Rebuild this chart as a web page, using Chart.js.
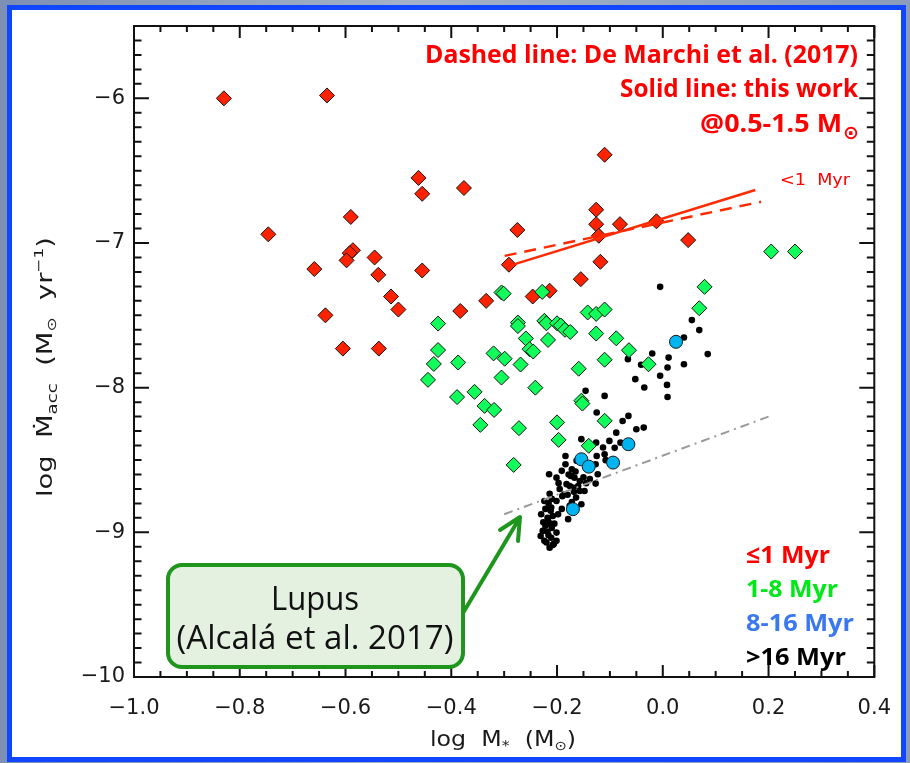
<!DOCTYPE html>
<html>
<head>
<meta charset="utf-8">
<script src="https://cdn.jsdelivr.net/npm/chart.js@4.4.1/dist/chart.umd.min.js"></script>
<style>
  html, body { margin: 0; padding: 0; }
  body {
    width: 910px; height: 763px; overflow: hidden; position: relative;
    background: linear-gradient(90deg, #7d90b4 0%, #a3b1c9 45%, #8b9cbc 100%);
  }
  #panel {
    position: absolute; left: 7px; top: 5px; width: 899px; height: 757px;
    box-sizing: border-box; border: 5px solid #1046ff; background: #fff;
  }
  #wrap { position: absolute; left: 0; top: 0; width: 910px; height: 763px; }
</style>
</head>
<body>
<div id="panel"></div>
<div id="wrap"><canvas id="accChart" width="910" height="763"></canvas></div>
<script>
// log M* (Msun) and log Macc (Msun/yr), per age group

// <= 1 Myr
const youngMass = [-0.83, -0.635, -0.462, -0.455, -0.376, -0.110, -0.590, -0.746, -0.586, -0.592,
  -0.598, -0.545, -0.659, -0.538, -0.455, -0.514, -0.500, -0.638, -0.605, -0.537,
  -0.383, -0.126, -0.126, -0.121, -0.081, -0.012, -0.275, 0.048, -0.291, -0.118,
  -0.155, -0.334, -0.246, -0.214];
const youngRate = [-6.00, -5.98, -6.55, -6.66, -6.62, -6.39, -6.82, -6.94, -7.05, -7.07,
  -7.12, -7.10, -7.18, -7.22, -7.19, -7.37, -7.46, -7.50, -7.73, -7.73,
  -7.47, -6.77, -6.87, -6.95, -6.87, -6.85, -6.91, -6.98, -7.15, -7.13,
  -7.25, -7.40, -7.37, -7.33];

// 1-8 Myr
const midMass = [-0.425, -0.425, -0.433, -0.444, -0.387, -0.389, -0.356, -0.337, -0.319, -0.345,
  -0.320, -0.305, -0.305, -0.301, -0.228, -0.299, -0.269, -0.259, -0.274, -0.274,
  -0.252, -0.245, -0.217, -0.224, -0.220, -0.200, -0.193, -0.185, -0.175, -0.142,
  -0.126, -0.110, -0.126, -0.088, -0.064, -0.027, 0.079, 0.069, -0.110, -0.159,
  -0.241, -0.154, -0.152, -0.272, -0.200, -0.110, -0.197, -0.140, -0.282, 0.205,
  0.250];
const midRate = [-7.557, -7.740, -7.836, -7.946, -7.826, -8.065, -8.029, -8.126, -8.154, -8.257,
  -7.763, -7.930, -7.342, -7.350, -7.338, -7.800, -7.840, -7.660, -7.550, -7.574,
  -7.734, -7.750, -7.670, -7.538, -7.555, -7.555, -7.570, -7.600, -7.615, -7.480,
  -7.490, -7.460, -7.626, -7.659, -7.741, -7.838, -7.303, -7.451, -7.807, -7.869,
  -8.000, -8.090, -8.110, -8.280, -8.240, -8.229, -8.361, -8.402, -8.534, -7.059,
  -7.059];

// 8-16 Myr
const oldMass = [0.025, -0.065, -0.094, -0.154, -0.140, -0.170];
const oldRate = [-7.683, -8.391, -8.518, -8.495, -8.546, -8.840];

// > 16 Myr (Lupus)
const lupusMass = [0.055, 0.069, 0.040, 0.085, 0.040, 0.011, -0.020, 0.009, -0.005, 0.008,
  0.009, -0.035, -0.052, -0.066, -0.041, -0.146, -0.110, -0.125, -0.076, -0.065,
  -0.050, -0.036, -0.088, -0.080, -0.154, -0.126, -0.113, -0.125, -0.110, -0.108,
  -0.127, -0.184, -0.184, -0.215, -0.201, -0.172, -0.167, -0.170, -0.157, -0.157,
  -0.148, -0.127, -0.123, -0.182, -0.186, -0.214, -0.201, -0.211, -0.198, -0.230,
  -0.217, -0.205, -0.227, -0.201, -0.211, -0.224, -0.214, -0.179, -0.154, -0.164,
  -0.005, -0.224, -0.195, -0.222, -0.208, -0.210, -0.218, -0.201, -0.231, -0.174,
  -0.163, -0.176, -0.142, -0.191, -0.101, -0.091, -0.138, -0.191, -0.208, -0.222,
  -0.216, -0.212, -0.218, -0.210, -0.216, -0.206, -0.220, -0.213, -0.226, -0.178,
  -0.176, -0.180, -0.172, -0.168, -0.160, -0.165, -0.150, -0.145, -0.197, -0.190];
const lupusRate = [-7.533, -7.602, -7.653, -7.768, -7.838, -7.792, -7.764, -7.861, -7.918, -7.981,
  -8.064, -7.999, -7.941, -7.803, -7.842, -8.022, -8.057, -8.172, -8.230, -8.195,
  -8.287, -8.276, -8.311, -8.380, -8.356, -8.380, -8.414, -8.472, -8.460, -8.501,
  -8.529, -8.472, -8.529, -8.598, -8.622, -8.564, -8.622, -8.691, -8.645, -8.714,
  -8.714, -8.663, -8.598, -8.667, -8.737, -8.733, -8.783, -8.829, -8.875, -8.875,
  -8.921, -8.940, -8.990, -9.002, -9.037, -9.059, -9.106, -8.909, -8.806, -8.760,
  -7.303, -8.783, -8.700, -8.955, -8.887, -8.769, -8.996, -9.059, -9.025, -8.610,
  -8.506, -8.817, -8.560, -8.575, -8.368, -8.416, -8.631, -8.838, -9.087, -8.838,
  -8.800, -8.850, -8.900, -8.970, -9.020, -9.080, -9.070, -8.940, -8.930, -8.600,
  -8.680, -8.740, -8.790, -8.720, -8.680, -8.580, -8.620, -8.660, -8.660, -8.750];

// fits at 0.5-1.5 Msun (<1 Myr) and the Lupus relation
const fitMass = [-0.280, 0.175];
const fitThisWork = [-7.146, -6.634];
const deMarchiMass = [-0.299, 0.186];
const deMarchiRate = [-7.089, -6.715];
const lupusFitMass = [-0.300, 0.200];
const lupusFitRate = [-8.875, -8.200];

const massTicks = [-1.0, -0.8, -0.6, -0.4, -0.2, 0.0, 0.2, 0.4];
const rateTicks = [-10, -9, -8, -7, -6];

const MINUS = '\u2212';
const axisFont = '"DejaVu Sans"';
const boldFont = '"Open Sans"';

const pts = (xs, ys) => xs.map((x, i) => ({ x, y: ys[i] }));

const lineSet = (xs, ys, color, width, dash) => ({
  type: 'line',
  data: pts(xs, ys),
  borderColor: color,
  borderWidth: width,
  borderDash: dash,
  pointRadius: 0,
  fill: false,
  tension: 0
});

// text squeezed/stretched horizontally to a given width
function fitText(ctx, text, x, y, width, align) {
  const w = ctx.measureText(text).width;
  ctx.save();
  ctx.translate(x, y);
  ctx.scale(width / w, 1);
  ctx.textAlign = align;
  ctx.fillText(text, 0, 0);
  ctx.restore();
}

// mixed-size text (sub/superscripts) centred on the origin
function richText(ctx, runs, width) {
  let total = 0;
  const widths = runs.map(r => {
    ctx.font = r.size + 'px ' + axisFont;
    const w = ctx.measureText(r.text).width;
    total += w;
    return w;
  });
  ctx.save();
  ctx.scale(width / total, 1);
  ctx.textAlign = 'left';
  let cx = -total / 2;
  runs.forEach((r, i) => {
    ctx.font = r.size + 'px ' + axisFont;
    ctx.fillText(r.text, cx, r.dy || 0);
    cx += widths[i];
  });
  ctx.restore();
}

const frameTicks = {
  id: 'frameTicks',
  afterDatasetsDraw(chart) {
    const { ctx, chartArea: a, scales: { x, y } } = chart;
    ctx.save();
    ctx.strokeStyle = '#111';
    ctx.lineWidth = 2;
    ctx.strokeRect(a.left, a.top, a.right - a.left, a.bottom - a.top);
    ctx.beginPath();
    for (let i = 0; i <= 28; i++) {
      const px = x.getPixelForValue(-1 + i * 0.05);
      const len = i % 4 === 0 ? 12 : 6;
      ctx.moveTo(px, a.bottom); ctx.lineTo(px, a.bottom - len);
      ctx.moveTo(px, a.top); ctx.lineTo(px, a.top + len);
    }
    for (let i = 0; i <= 45; i++) {
      const py = y.getPixelForValue(-10 + i * 0.1);
      const len = i % 10 === 0 ? 15 : 7.5;
      ctx.moveTo(a.left, py); ctx.lineTo(a.left + len, py);
      ctx.moveTo(a.right, py); ctx.lineTo(a.right - len, py);
    }
    ctx.stroke();
    ctx.restore();
  }
};

const annotations = {
  id: 'annotations',
  afterDraw(chart) {
    const ctx = chart.ctx;
    ctx.save();
    ctx.textBaseline = 'alphabetic';

    // axis titles
    ctx.fillStyle = '#1a1a1a';
    ctx.save();
    ctx.translate(503, 746);
    richText(ctx, [
      { text: 'log  M', size: 21 },
      { text: '*', size: 14, dy: 4 },
      { text: '  (M', size: 21 },
      { text: '\u2299', size: 13, dy: 4 },
      { text: ')', size: 21 }
    ], 146);
    ctx.restore();

    ctx.save();
    ctx.translate(52, 367);
    ctx.rotate(-Math.PI / 2);
    richText(ctx, [
      { text: 'log  \u1E40', size: 21 },
      { text: 'acc', size: 14, dy: 5 },
      { text: '  (M', size: 21 },
      { text: '\u2299', size: 13, dy: 4 },
      { text: '  yr', size: 21 },
      { text: MINUS + '1', size: 13, dy: -9 },
      { text: ')', size: 21 }
    ], 260);
    ctx.restore();

    // fit description
    ctx.fillStyle = '#ff0000';
    ctx.font = 'bold 25px ' + boldFont;
    fitText(ctx, 'Dashed line: De Marchi et al. (2017)', 858, 63, 433, 'right');
    fitText(ctx, 'Solid line: this work', 858, 97, 238, 'right');
    fitText(ctx, '@0.5-1.5 M', 842, 132, 142, 'right');
    ctx.font = 'bold 19px ' + axisFont;
    ctx.textAlign = 'center';
    ctx.fillText('\u2299', 851, 139);

    ctx.font = '16px ' + axisFont;
    fitText(ctx, '<1  Myr', 780, 185, 70, 'left');

    // age groups
    ctx.font = 'bold 24px ' + boldFont;
    ctx.fillStyle = '#ff0000';
    fitText(ctx, '\u22641 Myr', 746, 563, 84, 'left');
    ctx.fillStyle = '#00e81a';
    fitText(ctx, '1-8 Myr', 746, 597, 92, 'left');
    ctx.fillStyle = '#3a78f2';
    fitText(ctx, '8-16 Myr', 746, 631, 108, 'left');
    ctx.fillStyle = '#000';
    fitText(ctx, '>16 Myr', 746, 665, 100, 'left');

    // Lupus callout
    const bx = 168, by = 565, bw = 295, bh = 102, r = 14;
    ctx.beginPath();
    ctx.moveTo(bx + r, by);
    ctx.arcTo(bx + bw, by, bx + bw, by + bh, r);
    ctx.arcTo(bx + bw, by + bh, bx, by + bh, r);
    ctx.arcTo(bx, by + bh, bx, by, r);
    ctx.arcTo(bx, by, bx + bw, by, r);
    ctx.closePath();
    ctx.fillStyle = '#e4f1e1';
    ctx.fill();
    ctx.lineWidth = 4;
    ctx.strokeStyle = '#1e961e';
    ctx.stroke();

    ctx.fillStyle = '#111';
    ctx.font = '32px ' + boldFont;
    fitText(ctx, 'Lupus', 315, 610, 88, 'center');
    fitText(ctx, '(Alcal\u00E1 et al. 2017)', 315, 649, 277, 'center');

    // arrow to the Lupus relation
    ctx.strokeStyle = '#1e961e';
    ctx.lineWidth = 4;
    ctx.lineCap = 'round';
    ctx.lineJoin = 'round';
    ctx.beginPath();
    ctx.moveTo(463, 613);
    ctx.lineTo(519, 519);
    ctx.moveTo(500, 530);
    ctx.lineTo(520, 517);
    ctx.lineTo(518, 541);
    ctx.stroke();

    ctx.restore();
  }
};

new Chart(document.getElementById('accChart'), {
  type: 'scatter',
  data: {
    datasets: [
      lineSet(fitMass, fitThisWork, '#ff2a00', 2.5, []),
      lineSet(deMarchiMass, deMarchiRate, '#ff2a00', 2.5, [12, 8]),
      lineSet(lupusFitMass, lupusFitRate, '#9a9a9a', 2, [9, 5, 2, 5]),
      {
        label: '8-16 Myr',
        data: pts(oldMass, oldRate),
        pointStyle: 'circle',
        pointRadius: 6.5,
        backgroundColor: '#00b4f0',
        borderColor: '#1a1a1a',
        borderWidth: 1
      },
      {
        label: '1-8 Myr',
        data: pts(midMass, midRate),
        pointStyle: 'rectRot',
        pointRadius: 7.5,
        backgroundColor: '#11ff5a',
        borderColor: '#111',
        borderWidth: 1
      },
      {
        label: '<=1 Myr',
        data: pts(youngMass, youngRate),
        pointStyle: 'rectRot',
        pointRadius: 7.5,
        backgroundColor: '#ff2200',
        borderColor: '#111',
        borderWidth: 1
      },
      {
        label: '>16 Myr',
        data: pts(lupusMass, lupusRate),
        pointStyle: 'circle',
        pointRadius: 3.3,
        backgroundColor: '#000',
        borderWidth: 0
      }
    ]
  },
  options: {
    responsive: false,
    animation: false,
    events: [],
    layout: { padding: { left: 0, top: 26, right: 34, bottom: 0 } },
    plugins: {
      legend: { display: false },
      tooltip: { enabled: false }
    },
    scales: {
      x: {
        type: 'linear',
        min: -1.0,
        max: 0.4,
        afterBuildTicks: s => { s.ticks = massTicks.map(v => ({ value: v })); },
        afterFit: s => { s.height = 86; },
        grid: { display: false, drawTicks: false },
        border: { display: false },
        ticks: {
          padding: 19,
          autoSkip: false,
          maxRotation: 0,
          color: '#1a1a1a',
          font: { family: 'DejaVu Sans', size: 21 },
          callback: v => (Math.abs(v) < 1e-9 ? 0 : v).toFixed(1).replace('-', MINUS)
        }
      },
      y: {
        type: 'linear',
        min: -10,
        max: -5.5,
        afterBuildTicks: s => { s.ticks = rateTicks.map(v => ({ value: v })); },
        afterFit: s => { s.width = 134; },
        grid: { display: false, drawTicks: false },
        border: { display: false },
        ticks: {
          padding: 9,
          autoSkip: false,
          color: '#1a1a1a',
          font: { family: 'DejaVu Sans', size: 21 },
          callback: v => String(v).replace('-', MINUS)
        }
      }
    }
  },
  plugins: [frameTicks, annotations]
});
</script>
</body>
</html>
